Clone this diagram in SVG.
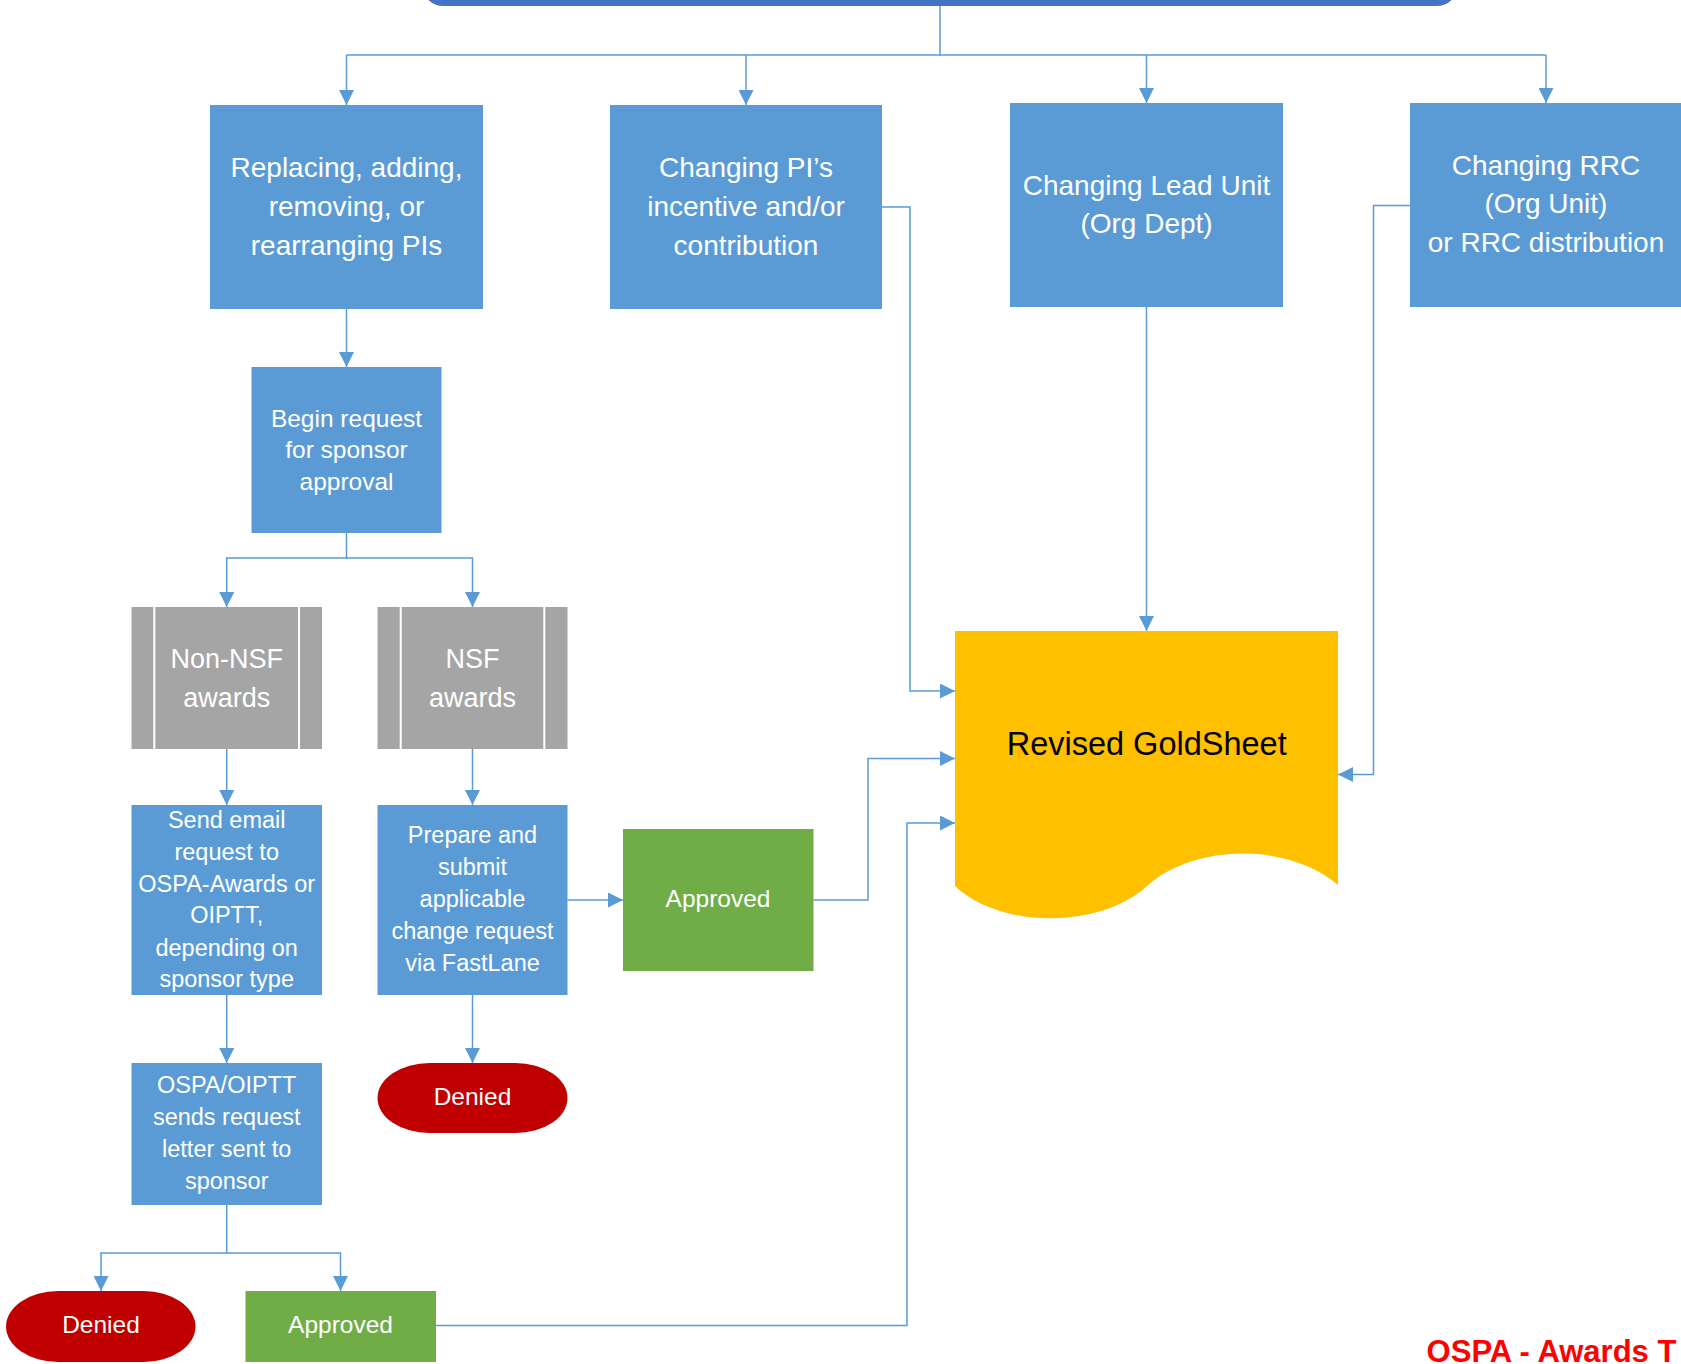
<svg xmlns="http://www.w3.org/2000/svg" width="1681" height="1364" viewBox="0 0 1681 1364">
<style>
text{font-family:"Liberation Sans",Arial,sans-serif;fill:#fff;text-anchor:middle}
.blue{fill:#5B9BD5}
.gray{fill:#A5A5A5}
.green{fill:#70AD47}
.red{fill:#C00000}
.div{stroke:#fff;stroke-width:2}
.big{font-size:28px}
.mid{font-size:27px}
.sm{font-size:23.5px}
.lbl{font-size:24.5px}
.conn path{fill:none;stroke:#5B9BD5;stroke-width:1.5;marker-end:url(#ah)}
.conn path.nm{marker-end:none}
</style>
<defs>
<marker id="ah" markerUnits="userSpaceOnUse" markerWidth="15" markerHeight="15" refX="15" refY="7.5" orient="auto">
<path d="M0,0 L15,7.5 L0,15 Z" fill="#5B9BD5"/>
</marker>
</defs>

<g id="topbar"><rect x="423" y="-100" width="1034" height="106" rx="20" fill="#4472C4"/></g>

<g class="conn" id="connectors">
<path class="nm" d="M940,6 V55 H1546"/>
<path class="nm" d="M940,55 H346.5"/>
<path d="M346.5,55 V105"/>
<path d="M746,55 V105"/>
<path d="M1146.5,55 V103"/>
<path d="M1546,55 V103"/>
<path d="M346.5,309 V367"/>
<path d="M346.5,533 V558 H226.7 V607"/>
<path d="M346.5,558 H472.5 V607"/>
<path d="M226.7,749 V805"/>
<path d="M472.5,749 V805"/>
<path d="M226.7,995 V1063"/>
<path d="M472.5,995 V1063"/>
<path d="M567.5,900 H623"/>
<path d="M813.5,900 H868 V758.5 H955"/>
<path d="M226.7,1205 V1253 H101 V1291"/>
<path d="M226.7,1253 H340.5 V1291"/>
<path d="M436,1325.5 H907 V823 H955"/>
<path d="M882,207 H910 V691 H955"/>
<path d="M1146.5,307 V631"/>
<path d="M1410,205.5 H1373.5 V774.5 H1338"/>
</g>

<g id="replacing">
<rect class="blue" x="210" y="105" width="273" height="204"/>
<text class="big" x="346.5" y="177">Replacing, adding,</text>
<text class="big" x="346.5" y="216">removing, or</text>
<text class="big" x="346.5" y="255">rearranging PIs</text>
</g>
<g id="changing-pi">
<rect class="blue" x="610" y="105" width="272" height="204"/>
<text class="big" x="746" y="177">Changing PI’s</text>
<text class="big" x="746" y="216">incentive and/or</text>
<text class="big" x="746" y="255">contribution</text>
</g>
<g id="changing-lead">
<rect class="blue" x="1010" y="103" width="273" height="204"/>
<text class="big" x="1146.5" y="195">Changing Lead Unit</text>
<text class="big" x="1146.5" y="233">(Org Dept)</text>
</g>
<g id="changing-rrc">
<rect class="blue" x="1410" y="103" width="272" height="204"/>
<text class="big" x="1546" y="175">Changing RRC</text>
<text class="big" x="1546" y="213">(Org Unit)</text>
<text class="big" x="1546" y="252">or RRC distribution</text>
</g>
<g id="begin">
<rect class="blue" x="251.5" y="367" width="190" height="166"/>
<text class="lbl" x="346.5" y="426.5">Begin request</text>
<text class="lbl" x="346.5" y="458">for sponsor</text>
<text class="lbl" x="346.5" y="490">approval</text>
</g>
<g id="non-nsf">
<rect class="gray" x="131.5" y="607" width="190.5" height="142"/>
<path class="div" d="M154.3,607 V749 M299,607 V749"/>
<text class="mid" x="226.7" y="668">Non-NSF</text>
<text class="mid" x="226.7" y="706.5">awards</text>
</g>
<g id="nsf">
<rect class="gray" x="377.5" y="607" width="190" height="142"/>
<path class="div" d="M400.7,607 V749 M544.3,607 V749"/>
<text class="mid" x="472.5" y="668">NSF</text>
<text class="mid" x="472.5" y="706.5">awards</text>
</g>
<g id="send-email">
<rect class="blue" x="131.5" y="805" width="190.5" height="190"/>
<text class="sm" x="226.7" y="828">Send email</text>
<text class="sm" x="226.7" y="860">request to</text>
<text class="sm" x="226.7" y="891.7">OSPA-Awards or</text>
<text class="sm" x="226.7" y="923.3">OIPTT,</text>
<text class="sm" x="226.7" y="955.5">depending on</text>
<text class="sm" x="226.7" y="987">sponsor type</text>
</g>
<g id="prepare">
<rect class="blue" x="377.5" y="805" width="190" height="190"/>
<text class="sm" x="472.5" y="843.3">Prepare and</text>
<text class="sm" x="472.5" y="875">submit</text>
<text class="sm" x="472.5" y="906.7">applicable</text>
<text class="sm" x="472.5" y="939">change request</text>
<text class="sm" x="472.5" y="971">via FastLane</text>
</g>
<g id="approved-nsf">
<rect class="green" x="623" y="829" width="190.5" height="142"/>
<text class="lbl" x="718" y="907">Approved</text>
</g>
<g id="denied-nsf">
<rect class="red" x="377.5" y="1063" width="190" height="70" rx="52" ry="35"/>
<text class="lbl" x="472.5" y="1105">Denied</text>
</g>
<g id="ospa-oiptt">
<rect class="blue" x="131.5" y="1063" width="190.5" height="142"/>
<text class="sm" x="226.7" y="1093">OSPA/OIPTT</text>
<text class="sm" x="226.7" y="1125">sends request</text>
<text class="sm" x="226.7" y="1157">letter sent to</text>
<text class="sm" x="226.7" y="1189">sponsor</text>
</g>
<g id="denied-sponsor">
<rect class="red" x="6" y="1291" width="189.5" height="71" rx="52" ry="35.5"/>
<text class="lbl" x="101" y="1333">Denied</text>
</g>
<g id="approved-sponsor">
<rect class="green" x="245.5" y="1291" width="190.5" height="71"/>
<text class="lbl" x="340.5" y="1333">Approved</text>
</g>
<g id="goldsheet">
<path d="M955,631 H1338 V885 C1290,843 1195,843 1147,886 C1100,929 1000,929 955,886 Z" fill="#FFC000"/>
<text x="1146.7" y="755" style="font-size:32.5px;fill:#000">Revised GoldSheet</text>
</g>
<g id="footer">
<text x="1426.6" y="1362" style="font-size:31px;font-weight:bold;fill:#FF0000;text-anchor:start">OSPA - Awards T</text>
</g>
</svg>
